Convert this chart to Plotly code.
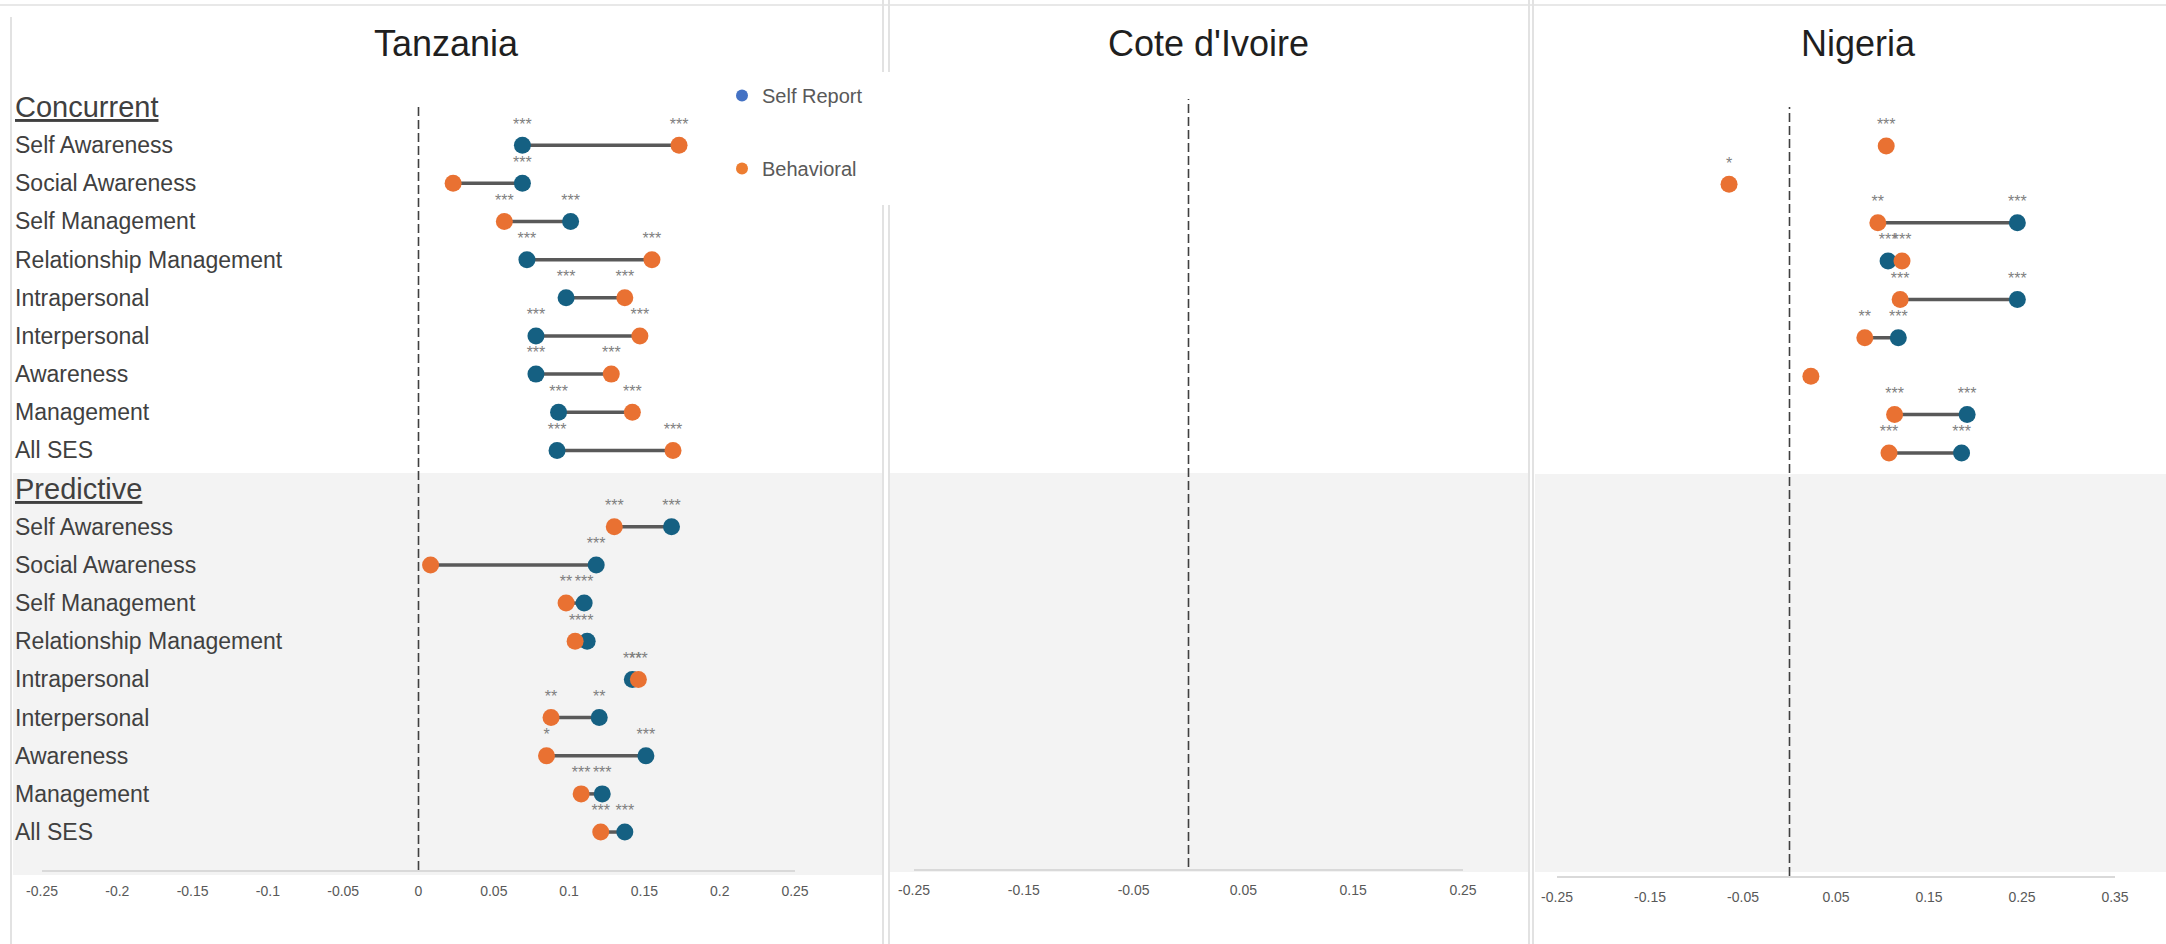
import plotly.graph_objects as go

# ---------------- data ----------------
row_labels = ["Self Awareness", "Social Awareness", "Self Management", "Relationship Management",
              "Intrapersonal", "Interpersonal", "Awareness", "Management", "All SES"]
section_labels = ["Concurrent", "Predictive"]
countries = ["Tanzania", "Cote d'Ivoire", "Nigeria"]
series_names = ["Self Report", "Behavioral"]

# Tanzania
tz_conc_self = [0.069, 0.069, 0.101, 0.072, 0.098, 0.078, 0.078, 0.093, 0.092]
tz_conc_beh = [0.173, 0.023, 0.057, 0.155, 0.137, 0.147, 0.128, 0.142, 0.169]
tz_conc_self_sig = ["***", "***", "***", "***", "***", "***", "***", "***", "***"]
tz_conc_beh_sig = ["***", "", "***", "***", "***", "***", "***", "***", "***"]
tz_pred_self = [0.168, 0.118, 0.110, 0.112, 0.142, 0.120, 0.151, 0.122, 0.137]
tz_pred_beh = [0.130, 0.008, 0.098, 0.104, 0.146, 0.088, 0.085, 0.108, 0.121]
tz_pred_self_sig = ["***", "***", "***", "**", "***", "**", "***", "***", "***"]
tz_pred_beh_sig = ["***", "", "**", "**", "***", "**", "*", "***", "***"]

# Nigeria (concurrent only)
ng_conc_self = [None, None, 0.245, 0.106, 0.245, 0.117, None, 0.191, 0.185]
ng_conc_beh = [0.104, -0.065, 0.095, 0.121, 0.119, 0.081, 0.023, 0.113, 0.107]
ng_conc_self_sig = ["", "", "***", "***", "***", "***", "", "***", "***"]
ng_conc_beh_sig = ["***", "*", "**", "***", "***", "**", "", "***", "***"]

# axis ticks
tz_ticks = [-0.25, -0.2, -0.15, -0.1, -0.05, 0, 0.05, 0.1, 0.15, 0.2, 0.25]
tz_ticktext = ["-0.25", "-0.2", "-0.15", "-0.1", "-0.05", "0", "0.05", "0.1", "0.15", "0.2", "0.25"]
ci_ticks = [-0.25, -0.15, -0.05, 0.05, 0.15, 0.25]
ci_ticktext = ["-0.25", "-0.15", "-0.05", "0.05", "0.15", "0.25"]
ng_ticks = [-0.25, -0.15, -0.05, 0.05, 0.15, 0.25, 0.35]
ng_ticktext = ["-0.25", "-0.15", "-0.05", "0.05", "0.15", "0.25", "0.35"]

# ---------------- style ----------------
W, H = 2166, 944
BLUE = "#156082"
ORANGE = "#E97132"
LEG_BLUE = "#4472C4"
LEG_ORANGE = "#ED7D31"
LINE = "#595959"
STAR = "#7F7F7F"
BAND = "#F3F3F3"
BORDER = "#E2E2E2"
FONT = "Liberation Sans, Arial, sans-serif"


def px(p):
    return p / W


def py(p):
    return 1 - p / H


# row positions: 0 = Concurrent header, 1..9 rows, 10 = Predictive header, 11..19 rows
conc_y = [i + 1 for i in range(len(row_labels))]
pred_y = [i + 11 for i in range(len(row_labels))]


def yaxis(bottom_px, row0_px, step_px, top_px=60):
    return dict(domain=[py(bottom_px), py(top_px)],
                range=[(bottom_px - row0_px) / step_px, (top_px - row0_px) / step_px],
                visible=False, fixedrange=True, automargin=False)


def xaxis(d0, d1, rng, ticks, ticktext, anchor):
    return dict(domain=[px(d0), px(d1)], range=rng, tickmode="array", tickvals=ticks,
                ticktext=ticktext, showgrid=False, zeroline=False, showline=True,
                linecolor="#D9D9D9", linewidth=2, ticks="outside", ticklen=7,
                tickcolor="rgba(0,0,0,0)", tickfont=dict(family=FONT, size=14, color="#595959"),
                anchor=anchor, fixedrange=True, automargin=False)


fig = go.Figure()


def add_panel(xref, yref, self_vals, beh_vals, self_sig, beh_sig, ys):
    lx, ly = [], []
    for s, b, y in zip(self_vals, beh_vals, ys):
        if s is not None and b is not None:
            lx += [s, b, None]
            ly += [y, y, None]
    fig.add_trace(go.Scatter(x=lx, y=ly, mode="lines", line=dict(color=LINE, width=3.5),
                             xaxis=xref, yaxis=yref, showlegend=False, hoverinfo="skip"))
    fig.add_trace(go.Scatter(x=self_vals, y=ys, mode="markers+text", text=self_sig,
                             textposition="top center",
                             textfont=dict(family=FONT, size=16, color=STAR),
                             marker=dict(color=BLUE, size=17), cliponaxis=False,
                             xaxis=xref, yaxis=yref, showlegend=False, name=series_names[0]))
    fig.add_trace(go.Scatter(x=beh_vals, y=ys, mode="markers+text", text=beh_sig,
                             textposition="top center",
                             textfont=dict(family=FONT, size=16, color=STAR),
                             marker=dict(color=ORANGE, size=17), cliponaxis=False,
                             xaxis=xref, yaxis=yref, showlegend=False, name=series_names[1]))


# Tanzania
add_panel("x", "y", tz_conc_self, tz_conc_beh, tz_conc_self_sig, tz_conc_beh_sig, conc_y)
add_panel("x", "y", tz_pred_self, tz_pred_beh, tz_pred_self_sig, tz_pred_beh_sig, pred_y)
# Nigeria
add_panel("x3", "y3", ng_conc_self, ng_conc_beh, ng_conc_self_sig, ng_conc_beh_sig, conc_y)
# Cote d'Ivoire: empty panel (axis only)
fig.add_trace(go.Scatter(x=[None], y=[None], xaxis="x2", yaxis="y2", showlegend=False))

# legend entries
fig.add_trace(go.Scatter(x=[None], y=[None], mode="markers", marker=dict(color=LEG_BLUE, size=12),
                         name=series_names[0], legendgroup="a", xaxis="x", yaxis="y"))
fig.add_trace(go.Scatter(x=[None], y=[None], mode="markers", marker=dict(color=LEG_ORANGE, size=12),
                         name=series_names[1], legendgroup="b", xaxis="x", yaxis="y"))

shapes = []
# grey bands for the predictive section
for x0, x1, y0, y1 in [(13, 882, 473, 875), (890, 1528, 473, 872), (1535, 2166, 474, 872)]:
    shapes.append(dict(type="rect", xref="paper", yref="paper", x0=px(x0), x1=px(x1),
                       y0=py(y1), y1=py(y0), fillcolor=BAND, line=dict(width=0), layer="below"))
# panel borders
shapes.append(dict(type="line", xref="paper", yref="paper", x0=0, x1=1, y0=py(5), y1=py(5),
                   line=dict(color="#E8E8E8", width=2), layer="below"))
for x, y0, y1 in [(11, 17, 944), (883, 0, 72), (883, 205, 944), (889, 0, 72), (889, 205, 944),
                  (1529, 0, 944), (1533, 0, 944)]:
    shapes.append(dict(type="line", xref="paper", yref="paper", x0=px(x), x1=px(x),
                       y0=py(y1), y1=py(y0), line=dict(color=BORDER, width=2), layer="below"))
# dashed zero lines
for xr, top, bot in [("x", 107, 870), ("x2", 99, 867), ("x3", 107, 876)]:
    shapes.append(dict(type="line", xref=xr, yref="paper", x0=0, x1=0, y0=py(bot), y1=py(top),
                       line=dict(color="#404040", width=1.6, dash="9px,4px"), layer="above"))

annotations = []
# titles
for name, cx in zip(countries, [446, 1208, 1858]):
    annotations.append(dict(text=name, xref="paper", yref="paper", x=px(cx), y=py(43),
                            xanchor="center", yanchor="middle", showarrow=False,
                            font=dict(family=FONT, size=36, color="#1F1F1F")))
# row labels
for txt, y in zip(section_labels, [0, 10]):
    annotations.append(dict(text="<u>" + txt + "</u>", xref="paper", yref="y", x=px(13), y=y,
                            xanchor="left", yanchor="middle", showarrow=False,
                            font=dict(family=FONT, size=29, color="#404040")))
for ys in (conc_y, pred_y):
    for lab, y in zip(row_labels, ys):
        annotations.append(dict(text=lab, xref="paper", yref="y", x=px(13), y=y,
                                xanchor="left", yanchor="middle", showarrow=False,
                                font=dict(family=FONT, size=23, color="#404040")))

fig.update_layout(
    width=W, height=H, margin=dict(l=0, r=0, t=0, b=0, pad=0, autoexpand=False),
    paper_bgcolor="white", plot_bgcolor="rgba(0,0,0,0)",
    xaxis=xaxis(42, 795, [-0.25, 0.25], tz_ticks, tz_ticktext, "y"),
    xaxis2=xaxis(914, 1463, [-0.25, 0.25], ci_ticks, ci_ticktext, "y2"),
    xaxis3=xaxis(1557, 2115, [-0.25, 0.35], ng_ticks, ng_ticktext, "y3"),
    yaxis=yaxis(870, 107, 38.16),
    yaxis2=yaxis(869, 107, 38.16),
    yaxis3=yaxis(876, 107.6, 38.375),
    shapes=shapes, annotations=annotations,
    showlegend=True,
    legend=dict(x=px(722), y=py(76), xanchor="left", yanchor="top", bgcolor="white",
                font=dict(family=FONT, size=20, color="#595959"), tracegroupgap=44,
                itemsizing="trace"),
)

fig.write_html("out.html")
